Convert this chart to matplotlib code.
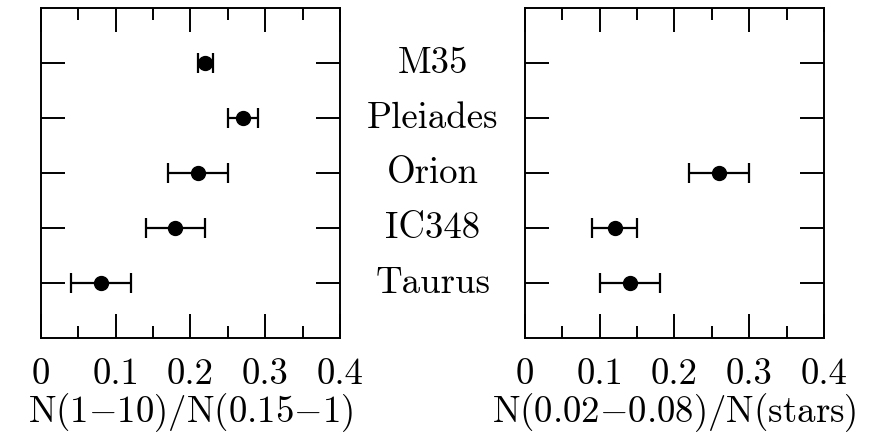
import numpy as np
import matplotlib
matplotlib.use('Agg')
import matplotlib.pyplot as plt
import matplotlib.transforms as mtransforms
from matplotlib.ticker import MultipleLocator

plt.rcParams['font.family'] = 'cmr10'
plt.rcParams['mathtext.fontset'] = 'cm'
plt.rcParams['axes.unicode_minus'] = False

# clusters, bottom to top
clusters = ['Taurus', 'IC348', 'Orion', 'Pleiades', 'M35']
ypos = [1, 2, 3, 4, 5]

# left panel: N(1-10)/N(0.15-1)
ratio_hi = [0.08, 0.18, 0.21, 0.27, 0.22]
err_hi = [0.04, 0.04, 0.04, 0.02, 0.01]

# right panel: N(0.02-0.08)/N(stars), only three clusters
bd_clusters = ['Taurus', 'IC348', 'Orion']
ratio_bd = [0.14, 0.12, 0.26]
err_bd = [0.04, 0.03, 0.04]

xticks = [0, 0.1, 0.2, 0.3, 0.4]
xticklabels = ['0', '0.1', '0.2', '0.3', '0.4']

fs = 26.5

fig = plt.figure(figsize=(8.87, 4.36), dpi=100)
ax1 = fig.add_axes([0.0462, 0.2248, 0.337, 0.757])
ax2 = fig.add_axes([0.5919, 0.2248, 0.337, 0.757])

bd_y = [ypos[clusters.index(c)] for c in bd_clusters]

for ax, xs, es, ys, lab in [
        (ax1, ratio_hi, err_hi, ypos, r'$\mathrm{N(1{-}10)/N(0.15{-}1)}$'),
        (ax2, ratio_bd, err_bd, bd_y, r'$\mathrm{N(0.02{-}0.08)/N(stars)}$')]:
    ax.errorbar(xs, ys, xerr=es, fmt='o', color='black', ms=10,
                elinewidth=1.6, capsize=7, capthick=1.6)
    ax.set_xlim(0, 0.4)
    ax.set_ylim(0, 6)
    ax.set_xticks(xticks)
    ax.set_xticklabels(xticklabels, fontsize=fs)
    ax.xaxis.set_minor_locator(MultipleLocator(0.05))
    ax.set_yticks(ypos)
    ax.set_yticklabels([])
    ax.tick_params(which='major', direction='in', top=True, bottom=True,
                   left=True, right=True, length=17, width=1.4, pad=14)
    ax.tick_params(which='minor', direction='in', top=True, bottom=True,
                   length=8.5, width=1.4)
    ax.set_xlabel(lab, fontsize=fs, labelpad=0)
    for s in ax.spines.values():
        s.set_linewidth(1.4)

trans = mtransforms.blended_transform_factory(fig.transFigure, ax1.transData)
for c, y in zip(clusters, ypos):
    ax1.text(0.488, y, c, transform=trans, ha='center', va='center',
             fontsize=fs, clip_on=False)

fig.savefig('out.png', dpi=100)
